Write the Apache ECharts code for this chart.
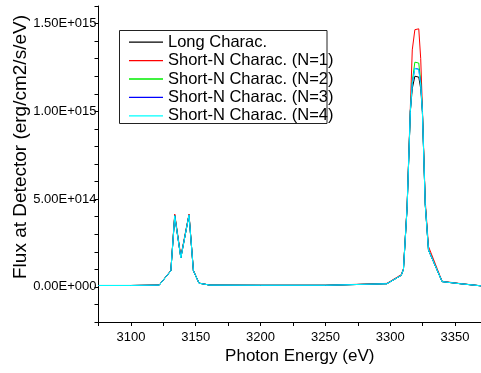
<!DOCTYPE html>
<html>
<head>
<meta charset="utf-8">
<script src="https://cdn.jsdelivr.net/npm/echarts@6/dist/echarts.min.js"></script>
<style>html,body{margin:0;padding:0;background:#fff;}#chart{width:481px;height:373px;}</style>
</head>
<body>
<div id="chart"></div>
<script>
// Photon energy (eV) sample points
const energy = [3075, 3100, 3121.8, 3130.8, 3133.8, 3138.5, 3144.8, 3148.2, 3152.5, 3161, 3200, 3250, 3297.4, 3308.5, 3310.2, 3313, 3315.5, 3317, 3319, 3322, 3323.5, 3324.8, 3327, 3329.5, 3340, 3354, 3370];
// Flux at detector (erg/cm2/s/eV)
const longCharac = [8e12, 8e12, 1.0e13, 9.2e13, 4.05e14, 1.65e14, 4.10e14, 9.2e13, 2.1e13, 1.0e13, 9e12, 9e12, 1.8e13, 6.6e13, 1.0e14, 4.5e14, 1.0e15, 1.13e15, 1.20e15, 1.195e15, 1.13e15, 1.0e15, 4.7e14, 2.1e14, 3.0e13, 1.8e13, 6e12];
const shortN1 = [8e12, 8e12, 1.1e13, 9.4e13, 4.15e14, 1.75e14, 4.15e14, 9.4e13, 2.2e13, 1.0e13, 9e12, 9e12, 2.0e13, 7.0e13, 1.05e14, 4.6e14, 1.02e15, 1.35e15, 1.465e15, 1.47e15, 1.30e15, 1.02e15, 4.9e14, 2.3e14, 3.2e13, 1.9e13, 6e12];
const shortN2 = [8e12, 8e12, 1.0e13, 9.2e13, 4.07e14, 1.67e14, 4.10e14, 9.2e13, 2.1e13, 1.0e13, 9e12, 9e12, 1.8e13, 6.6e13, 1.0e14, 4.5e14, 1.0e15, 1.17e15, 1.28e15, 1.275e15, 1.17e15, 1.0e15, 4.7e14, 2.1e14, 3.0e13, 1.8e13, 6e12];
const shortN3 = [8e12, 8e12, 1.0e13, 9.2e13, 4.06e14, 1.66e14, 4.10e14, 9.2e13, 2.1e13, 1.0e13, 9e12, 9e12, 1.8e13, 6.6e13, 1.0e14, 4.5e14, 1.0e15, 1.16e15, 1.245e15, 1.24e15, 1.16e15, 1.0e15, 4.7e14, 2.1e14, 3.0e13, 1.8e13, 6e12];
const shortN4 = [8e12, 8e12, 1.0e13, 9.2e13, 4.05e14, 1.65e14, 4.10e14, 9.2e13, 2.1e13, 1.0e13, 9e12, 9e12, 1.8e13, 6.6e13, 1.0e14, 4.5e14, 1.0e15, 1.16e15, 1.245e15, 1.235e15, 1.15e15, 1.0e15, 4.7e14, 2.1e14, 3.0e13, 1.8e13, 6e12];

const seriesNames = ['Long Charac.', 'Short-N Charac. (N=1)', 'Short-N Charac. (N=2)', 'Short-N Charac. (N=3)', 'Short-N Charac. (N=4)'];
const seriesValues = [longCharac, shortN1, shortN2, shortN3, shortN4];
const seriesColors = ['#000000', '#ff0000', '#00ee00', '#0000ff', '#00ffff'];

// Tick labels
const xTickValues = [3100, 3150, 3200, 3250, 3300, 3350];
const xTickLabels = ['3100', '3150', '3200', '3250', '3300', '3350'];
const yTickValues = [0, 5e14, 1e15, 1.5e15];
const yTickLabels = ['0.00E+000', '5.00E+014', '1.00E+015', '1.50E+015'];

const FONT = '"Liberation Sans", Arial, sans-serif';

function lookup(values, labels, v, tol) {
  for (let i = 0; i < values.length; i++) {
    if (Math.abs(values[i] - v) < tol) return labels[i];
  }
  return '';
}

const chart = echarts.init(document.getElementById('chart'), null, {renderer: 'canvas'});
chart.setOption({
  backgroundColor: '#ffffff',
  animation: false,
  grid: {left: 98.5, right: 0, top: 6, bottom: 51, outerBoundsMode: 'none', containLabel: false},
  xAxis: {
    type: 'value', min: 3075, max: 3370, interval: 25,
    name: 'Photon Energy (eV)', nameLocation: 'middle', nameGap: 26, nameMoveOverlap: false,
    nameTextStyle: {fontFamily: FONT, fontSize: 17, color: '#000', padding: [0, 0, 0, 20]},
    axisLine: {show: true, onZero: false, lineStyle: {color: '#000', width: 1}},
    axisTick: {show: true, inside: false, length: 4, lineStyle: {color: '#000'}},
    minorTick: {show: false},
    splitLine: {show: false},
    axisLabel: {fontFamily: FONT, fontSize: 13, color: '#000', margin: 9, showMinLabel: true, showMaxLabel: false,
      formatter: v => lookup(xTickValues, xTickLabels, v, 1e-6)}
  },
  yAxis: {
    type: 'value', min: -2e14, max: 1.6e15, interval: 1e14,
    name: 'Flux at Detector (erg/cm2/s/eV)', nameLocation: 'middle', nameGap: 68, nameMoveOverlap: false,
    nameTextStyle: {fontFamily: FONT, fontSize: 19, color: '#000', padding: [0, 0, 0, 34]},
    axisLine: {show: true, onZero: false, lineStyle: {color: '#000', width: 1}},
    axisTick: {show: true, inside: false, length: 4, lineStyle: {color: '#000'}},
    splitLine: {show: false},
    axisLabel: {fontFamily: FONT, fontSize: 13, color: '#000', margin: 2,
      formatter: v => lookup(yTickValues, yTickLabels, v, 1e10)}
  },
  legend: {
    orient: 'vertical', left: 129, top: 33, padding: 0, itemGap: 0,
    icon: 'rect', itemWidth: 34, itemHeight: 1.3,
    textStyle: {fontFamily: FONT, fontSize: 16.5, color: '#000', lineHeight: 18.4},
    data: seriesNames
  },
  graphic: [{
    type: 'rect', z: 100,
    shape: {x: 119.5, y: 30.5, width: 207.5, height: 93},
    style: {fill: 'none', stroke: '#222', lineWidth: 1}
  }],
  series: seriesNames.map((name, k) => ({
    name: name,
    type: 'line',
    symbol: 'none',
    showSymbol: false,
    color: seriesColors[k],
    lineStyle: {color: seriesColors[k], width: 1},
    data: energy.map((e, i) => [e, seriesValues[k][i]])
  }))
});
</script>
</body>
</html>
